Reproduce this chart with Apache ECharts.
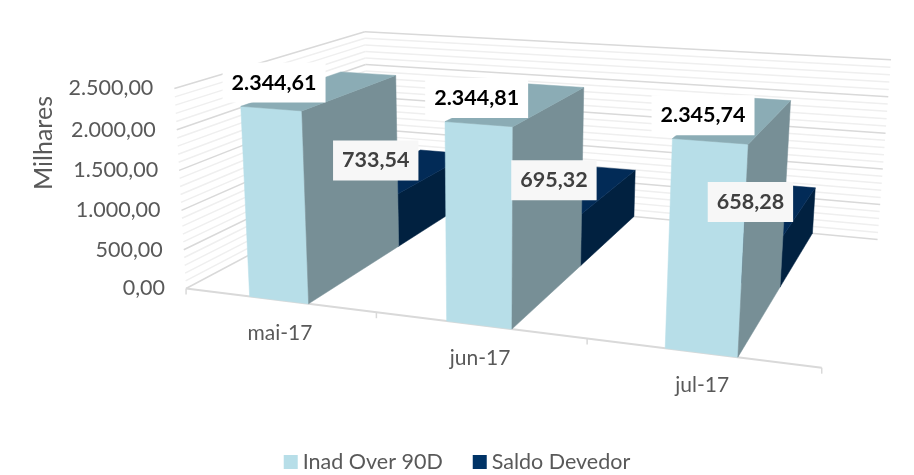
<!DOCTYPE html>
<html>
<head>
<meta charset="utf-8">
<style>html,body{margin:0;padding:0;background:#fff}#main{width:914px;height:475px}</style>
<script src="https://cdn.jsdelivr.net/npm/echarts@6/dist/echarts.min.js"></script>
</head>
<body>
<div id="main"></div>
<script>
var categories = ["mai-17", "jun-17", "jul-17"];
var inadOver90 = [2344.61, 2344.81, 2345.74];
var saldoDevedor = [733.54, 695.32, 658.28];
var gridValues = [0, 100, 200, 300, 400, 500, 600, 700, 800, 900, 1000, 1100, 1200, 1300, 1400, 1500, 1600, 1700, 1800, 1900, 2000, 2100, 2200, 2300, 2400, 2500];
var tickValues = [0, 500, 1000, 1500, 2000, 2500];

var FONT = 'Lato, sans-serif';
var TEXT_COLOR = "#595959";
var GRID = { left: 100, top: 60, width: 600, height: 300 };

// pontos da caixa 3D na tela: [u, v, w, x, y] (u categoria, v valor, w profundidade)
var BOX = [
  [0, 0, 0, 187, 287], [0, 0, 0, 187, 287], [1, 0, 0, 823, 369], [0, 1, 0, 171, 88], [1, 1, 0, 836, 140],
  [1 / 3, 0, 0, 377, 311], [1 / 3, 0, 0, 377, 311], [2 / 3, 0, 0, 587, 340],
  [0, 0, 1, 365, 196], [1, 0, 1, 878, 237], [0, 1, 1, 369, 31], [1, 1, 1, 890, 58]
];

// resolve a matriz de projecao por minimos quadrados
function fitCamera(pts) {
  var A = [], b = [];
  pts.forEach(function (p) {
    var u = p[0], v = p[1], w = p[2], x = p[3], y = p[4];
    A.push([u, v, w, 1, 0, 0, 0, 0, -x * u, -x * v, -x * w]); b.push(x);
    A.push([0, 0, 0, 0, u, v, w, 1, -y * u, -y * v, -y * w]); b.push(y);
  });
  var n = 11, M = [];
  for (var i = 0; i < n; i++) {
    M[i] = [];
    for (var j = 0; j <= n; j++) {
      var s = 0;
      for (var k = 0; k < A.length; k++) s += A[k][i] * (j < n ? A[k][j] : b[k]);
      M[i][j] = s;
    }
  }
  for (var c = 0; c < n; c++) {
    var piv = c;
    for (var r = c + 1; r < n; r++) if (Math.abs(M[r][c]) > Math.abs(M[piv][c])) piv = r;
    var t = M[c]; M[c] = M[piv]; M[piv] = t;
    for (var r2 = 0; r2 < n; r2++) {
      if (r2 === c) continue;
      var f = M[r2][c] / M[c][c];
      for (var j2 = c; j2 <= n; j2++) M[r2][j2] -= f * M[c][j2];
    }
  }
  return M.map(function (row, idx) { return row[n] / row[idx]; });
}
var cam = fitCamera(BOX);

function project(u, v, w) {
  var d = cam[8] * u + cam[9] * v + cam[10] * w + 1;
  return [
    (cam[0] * u + cam[1] * v + cam[2] * w + cam[3]) / d,
    (cam[4] * u + cam[5] * v + cam[6] * w + cam[7]) / d
  ];
}

function fmt(v) {
  var parts = v.toFixed(2).split(".");
  return parts[0].replace(/\B(?=(\d{3})+$)/g, ".") + "," + parts[1];
}

function toV(api, val) {
  return (GRID.top + GRID.height - api.coord([0, val])[1]) / GRID.height;
}
function toU(api, idx) {
  return (api.coord([idx, 0])[0] - GRID.left) / GRID.width;
}
function poly(points, color) {
  return {
    type: "polygon",
    shape: { points: points },
    style: { fill: color, stroke: color, lineWidth: 0.5 }
  };
}
function line(a, b, color, width) {
  return {
    type: "line",
    shape: { x1: a[0], y1: a[1], x2: b[0], y2: b[1] },
    style: { stroke: color, lineWidth: width, fill: null }
  };
}

// barra 3D: frente, topo e lateral direita
function barRenderer(w0, w1, colors) {
  return function (params, api) {
    var i = api.value(0), val = api.value(1);
    var c = toU(api, i), hw = (api.size([1, 0])[0] / GRID.width) * 0.155;
    var u0 = c - hw, u1 = c + hw, v = toV(api, val);
    return {
      type: "group",
      children: [
        poly([project(u0, 0, w0), project(u1, 0, w0), project(u1, v, w0), project(u0, v, w0)], colors.front),
        poly([project(u1, 0, w0), project(u1, 0, w1), project(u1, v, w1), project(u1, v, w0)], colors.side),
        poly([project(u0, v, w0), project(u1, v, w0), project(u1, v, w1), project(u0, v, w1)], colors.top)
      ]
    };
  };
}

function labelRenderer(w0, style) {
  return function (params, api) {
    var i = api.value(0), val = api.value(1);
    var p = project(toU(api, i), toV(api, val), w0);
    return {
      type: "text",
      style: {
        x: p[0] + style.dx[i],
        y: p[1] + style.dy,
        text: fmt(val),
        align: "center",
        verticalAlign: "middle",
        font: "bold 21.5px " + FONT,
        fill: style.color,
        backgroundColor: style.bg,
        padding: [9, 9]
      }
    };
  };
}

function wallRenderer(params, api) {
  var val = api.value(0), v = toV(api, val);
  var major = val % 500 === 0;
  var color = major ? "#D9D9D9" : "#EFEFEF";
  return {
    type: "group",
    children: [
      line(project(0, v, 0), project(0, v, 1), color, 1.5),
      line(project(0, v, 1), project(1, v, 1), color, 1.5)
    ]
  };
}

function axisRenderer(params, api) {
  var kids = [line(project(0, 0, 0), project(1, 0, 0), "#D9D9D9", 2)];
  for (var t = 0; t <= categories.length; t++) {
    var p = project(t / categories.length, 0, 0);
    kids.push(line(p, [p[0], p[1] + 6], "#D9D9D9", 1.5));
  }
  return { type: "group", children: kids };
}

function catLabelRenderer(params, api) {
  var i = api.value(0);
  var p = project(toU(api, i), 0, 0);
  return {
    type: "text",
    style: {
      x: p[0] + 1, y: p[1] + 33, text: categories[i], align: "center", verticalAlign: "middle",
      font: "21px " + FONT, fill: TEXT_COLOR
    }
  };
}

function tickLabelRenderer(params, api) {
  var val = api.value(0);
  var p = project(0, toV(api, val), 0);
  return {
    type: "text",
    style: {
      x: p[0] - 21, y: p[1], text: fmt(val), align: "right", verticalAlign: "middle",
      font: "21.5px " + FONT, fill: TEXT_COLOR
    }
  };
}

function pairs(values) {
  return values.map(function (v, i) { return [i, v]; });
}
function single(values) {
  return values.map(function (v) { return [v]; });
}
function baseCustom(name, renderItem, data, z) {
  return {
    type: "custom",
    name: name,
    renderItem: renderItem,
    data: data,
    z: z,
    silent: true,
    encode: { x: 0, y: 1 }
  };
}

var chart = echarts.init(document.getElementById("main"));
var option = {
  backgroundColor: "#fff",
  animation: false,
  grid: GRID,
  xAxis: { type: "category", data: categories, show: false },
  yAxis: { type: "value", min: 0, max: 2500, interval: 500, show: false },
  legend: {
    data: [
      { name: "Inad Over 90D", itemStyle: { color: "#B7DEE8" } },
      { name: "Saldo Devedor", itemStyle: { color: "#003366" } }
    ],
    left: "center",
    top: 446,
    icon: "rect",
    itemWidth: 14,
    itemHeight: 14,
    itemGap: 30,
    textStyle: { fontFamily: FONT, fontSize: 21.5, color: TEXT_COLOR }
  },
  graphic: [{
    type: "text",
    rotation: Math.PI / 2,
    x: 44,
    y: 143,
    style: {
      text: "Milhares", align: "center", verticalAlign: "middle",
      font: "25px " + FONT, fill: TEXT_COLOR
    }
  }],
  series: [
    baseCustom("paredes", wallRenderer, single(gridValues), 1),
    baseCustom("eixo", axisRenderer, [[0]], 2),
    baseCustom("Saldo Devedor", barRenderer(0.5, 1, { front: "#003366", side: "#012140", top: "#022B57" }), pairs(saldoDevedor), 3),
    baseCustom("Inad Over 90D", barRenderer(0, 0.5, { front: "#B7DEE8", side: "#778F96", top: "#8BACB5" }), pairs(inadOver90), 4),
    baseCustom("rotulo saldo", labelRenderer(0.5, { dx: [5, 2, 0], dy: -31, color: "#404040", bg: "#F7F7F7" }), pairs(saldoDevedor), 5),
    baseCustom("rotulo inad", labelRenderer(0, { dx: [3, -2, -7], dy: -26, color: "#000000", bg: "#FFFFFF" }), pairs(inadOver90), 6),
    baseCustom("categorias", catLabelRenderer, pairs(inadOver90), 7),
    baseCustom("ticks", tickLabelRenderer, single(tickValues), 7)
  ]
};
chart.setOption(option);
window.addEventListener("resize", function () { chart.resize(); });
</script>
</body>
</html>
